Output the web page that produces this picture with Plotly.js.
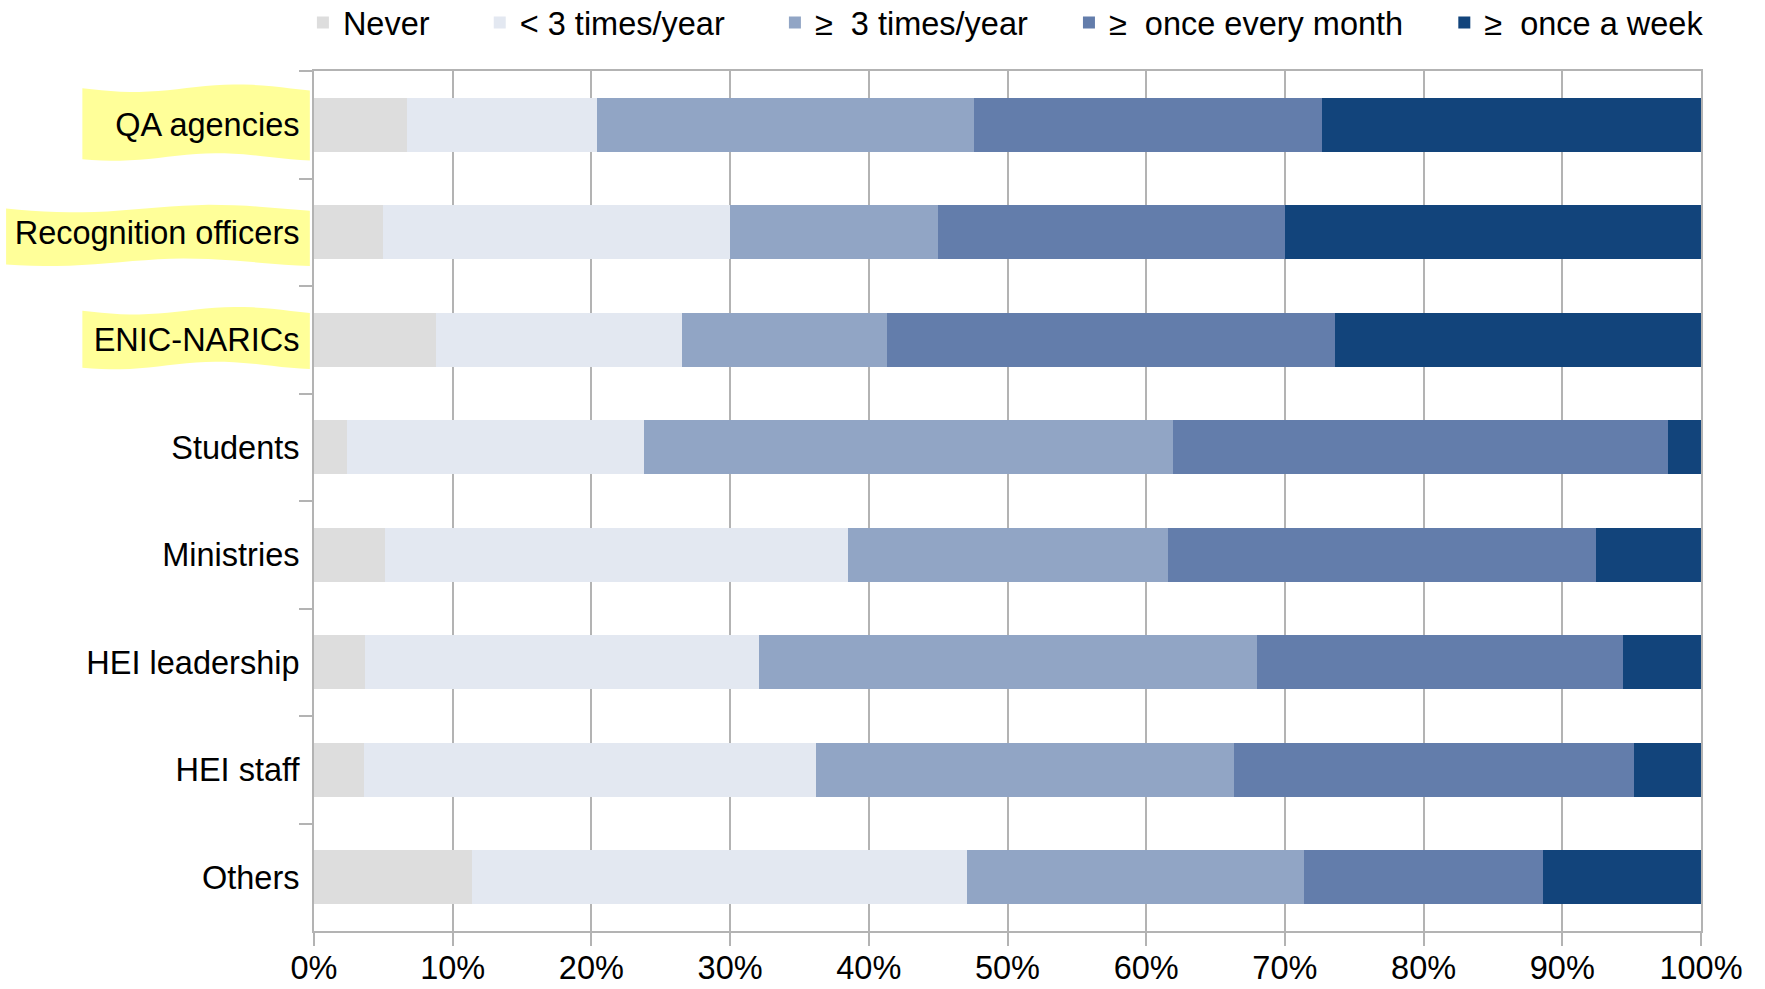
<!DOCTYPE html>
<html><head><meta charset="utf-8">
<script src="https://cdn.plot.ly/plotly-3.0.1.min.js"></script>
<style>html,body{margin:0;padding:0;background:#fff}</style>
</head><body><div id="chart" style="width:1765px;height:989px"></div>
<script>
// ---- data ----
const categories = ["QA agencies","Recognition officers","ENIC-NARICs","Students","Ministries","HEI leadership","HEI staff","Others"];
const seriesNames = ["Never","< 3 times/year","≥\u00a0 3 times/year","≥\u00a0 once every month","≥\u00a0 once a week"];
const never     = [6.7, 5.0, 8.8, 2.4, 5.1, 3.7, 3.6, 11.4];
const lessThan3 = [13.7,25.0,17.7,21.4,33.4,28.4,32.6,35.7];
const atLeast3  = [27.2,15.0,14.8,38.1,23.1,35.9,30.1,24.3];
const monthly   = [25.1,25.0,32.3,35.7,30.8,26.4,28.9,17.2];
const weekly    = [27.3,30.0,26.4, 2.4, 7.6, 5.6, 4.8,11.4];
const highlighted = ["QA agencies","Recognition officers","ENIC-NARICs"];

// ---- style ----
const colors = ["#dddddd","#e3e8f1","#91a5c5","#637dab","#12447b"];
const NB = "\u00a0";
const legendPad = [NB.repeat(5), NB.repeat(5), NB.repeat(4), NB.repeat(4), ""];
const hlStyle = {
  "QA agencies":          {x0:-0.167, top:-0.34, bottom:0.30},
  "Recognition officers": {x0:-0.222, top:-0.22, bottom:0.28},
  "ENIC-NARICs":          {x0:-0.167, top:-0.27, bottom:0.24}
};
const FONT = "Liberation Sans, Arial, sans-serif";
const FS = 32.5;
const GRID = "#b3b3b3";

const values = [never, lessThan3, atLeast3, monthly, weekly];
const traces = values.map((v, i) => ({
  type: "bar", orientation: "h",
  name: seriesNames[i] + legendPad[i],
  x: v, y: categories,
  marker: {color: colors[i], line: {width: 0}},
  hoverinfo: "x+y+name"
}));

function wavyPath(label) {
  const s = hlStyle[label];
  const idx = categories.indexOf(label);
  const x0 = s.x0, x1 = -0.003, n = 24, amp = 0.035;
  let top = [], bot = [];
  for (let k = 0; k <= n; k++) {
    const t = k / n, x = x0 + (x1 - x0) * t;
    top.push([x, idx + s.top + amp * Math.sin(t * Math.PI * 2.2)]);
    bot.push([x, idx + s.bottom + amp * Math.sin(t * Math.PI * 2.2 + 0.6)]);
  }
  let d = "M" + top.map(p => p[0].toFixed(4) + "," + p[1].toFixed(4)).join(" L");
  d += " L" + bot.reverse().map(p => p[0].toFixed(4) + "," + p[1].toFixed(4)).join(" L") + " Z";
  return d;
}
const shapes = highlighted.map(l => ({
  type: "path", xref: "paper", yref: "y", path: wavyPath(l),
  fillcolor: "#ffff99", line: {width: 0}, layer: "below"
}));

const layout = {
  width: 1765, height: 989,
  margin: {l: 314, r: 64, t: 71, b: 58, autoexpand: false},
  paper_bgcolor: "#ffffff", plot_bgcolor: "#ffffff",
  font: {family: FONT, size: FS, color: "#000000"},
  barmode: "stack", bargap: 0.5,
  showlegend: true,
  legend: {orientation: "h", x: -0.008, xanchor: "left", y: 1.056, yanchor: "middle",
           font: {family: FONT, size: FS, color: "#000"}, traceorder: "normal",
           bgcolor: "rgba(0,0,0,0)"},
  xaxis: {range: [0, 100], dtick: 10, tick0: 0, ticksuffix: "%",
          showgrid: true, gridcolor: GRID, gridwidth: 2, zeroline: false,
          showline: true, linecolor: GRID, linewidth: 2, mirror: true,
          ticks: "outside", ticklen: 13, tickwidth: 2, tickcolor: GRID,
          ticklabelstandoff: -6,
          tickfont: {family: FONT, size: FS, color: "#000"}, fixedrange: true},
  yaxis: {type: "category", categoryorder: "array", categoryarray: categories,
          autorange: "reversed", tickson: "boundaries",
          showgrid: false, showline: true, linecolor: GRID, linewidth: 2, mirror: true,
          ticks: "outside", ticklen: 13, tickwidth: 2, tickcolor: GRID,
          ticklabelstandoff: 6,
          tickfont: {family: FONT, size: FS, color: "#000"}, fixedrange: true},
  shapes: shapes
};
Plotly.newPlot("chart", traces, layout, {displayModeBar: false, staticPlot: true});
</script>
</body></html>
